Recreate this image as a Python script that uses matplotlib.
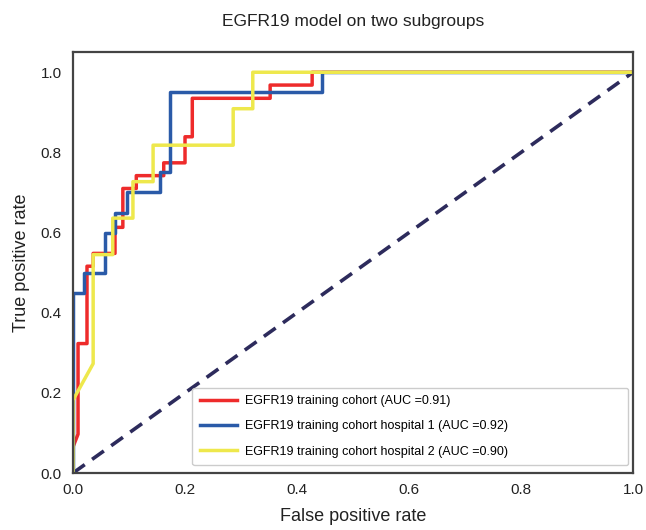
import matplotlib
matplotlib.use("Agg")
import matplotlib.pyplot as plt
import numpy as np

plt.rcParams['font.family'] = ['Liberation Sans', 'DejaVu Sans']

# ROC points
fpr_all = [0.0, 0.0, 0.009, 0.009, 0.025, 0.025, 0.036, 0.036, 0.075, 0.075, 0.089, 0.089,
           0.113, 0.113, 0.162, 0.162, 0.200, 0.200, 0.213, 0.213, 0.352, 0.352, 0.427, 0.427, 1.0]
tpr_all = [0.0, 0.065, 0.097, 0.323, 0.323, 0.516, 0.516, 0.548, 0.548, 0.613, 0.613, 0.710,
           0.710, 0.742, 0.742, 0.774, 0.774, 0.839, 0.839, 0.935, 0.935, 0.968, 0.968, 1.0, 1.0]

fpr_h1 = [0.0, 0.0, 0.020, 0.020, 0.057, 0.057, 0.075, 0.075, 0.097, 0.097,
          0.155, 0.155, 0.173, 0.173, 0.445, 0.445, 1.0]
tpr_h1 = [0.0, 0.45, 0.45, 0.50, 0.50, 0.60, 0.60, 0.65, 0.65, 0.70,
          0.70, 0.75, 0.75, 0.95, 0.95, 1.0, 1.0]

fpr_h2 = [0.0, 0.0, 0.036, 0.036, 0.071, 0.071, 0.107, 0.107, 0.143, 0.143,
          0.286, 0.286, 0.321, 0.321, 1.0]
tpr_h2 = [0.0, 0.182, 0.273, 0.545, 0.545, 0.636, 0.636, 0.727, 0.727, 0.818,
          0.818, 0.909, 0.909, 1.0, 1.0]

labels = ['EGFR19 training cohort (AUC =0.91)',
          'EGFR19 training cohort hospital 1 (AUC =0.92)',
          'EGFR19 training cohort hospital 2 (AUC =0.90)']

fig = plt.figure(figsize=(6.46, 5.3), dpi=100)
ax = fig.add_axes([0.113, 0.1075, 0.867, 0.794])

ax.plot([0, 1], [0, 1], color='#2d2b5c', lw=2.6, ls=(0, (4, 2.5)))
ax.plot(fpr_all, tpr_all, color='#ee2b2b', lw=2.5, label=labels[0])
ax.plot(fpr_h1, tpr_h1, color='#2a5aa8', lw=2.5, label=labels[1])
ax.plot(fpr_h2, tpr_h2, color='#eee84c', lw=2.5, label=labels[2])

ax.set_xlim(0, 1)
ax.set_ylim(0, 1.05)
ax.set_xticks(np.arange(0, 1.01, 0.2))
ax.set_yticks(np.arange(0, 1.01, 0.2))
ax.tick_params(axis='x', length=0, labelsize=11, pad=7, colors='#222222')
ax.tick_params(axis='y', length=0, labelsize=11, pad=8, colors='#222222')
for s in ax.spines.values():
    s.set_color('#444444')
    s.set_linewidth(1.6)

ax.set_xlabel('False positive rate', fontsize=13, labelpad=8, color='#222222')
ax.set_ylabel('True positive rate', fontsize=13, labelpad=8, color='#222222')
ax.set_title('EGFR19 model on two subgroups', fontsize=12.5, pad=19, color='#222222')

leg = ax.legend(loc='lower left', bbox_to_anchor=(0.2125, 0.019, 0.7785, 0.195), mode='expand',
                fontsize=9, handlelength=3.0, handletextpad=0.65, labelspacing=1.05,
                borderpad=0.6, borderaxespad=0, framealpha=1, edgecolor='#cccccc')

fig.savefig('out.png', dpi=100)
